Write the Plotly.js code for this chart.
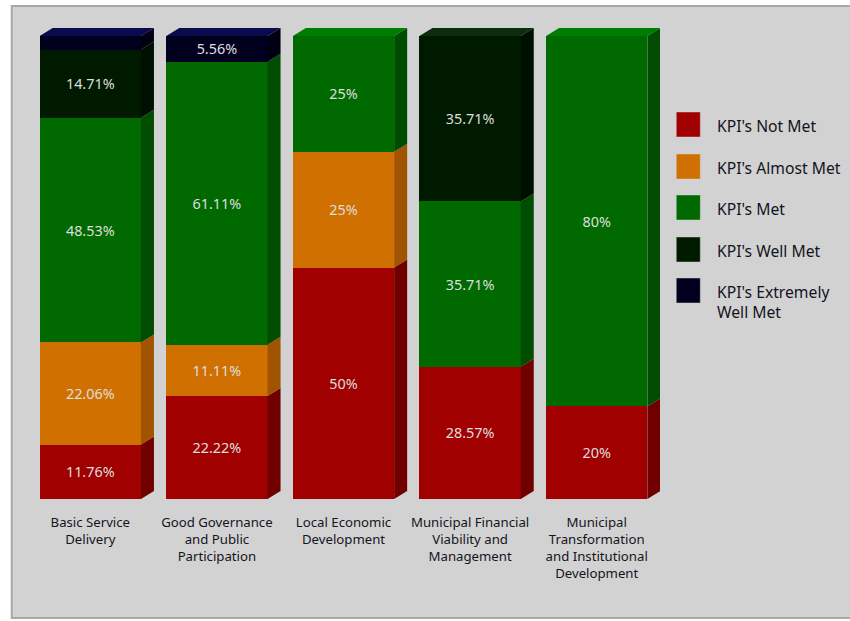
<!DOCTYPE html>
<html>
<head>
<meta charset="utf-8">
<script src="https://cdn.plot.ly/plotly-3.0.1.min.js"></script>
<style>html,body{margin:0;padding:0;background:#fff}#chart{width:850px;height:621px}</style>
</head>
<body>
<div id="chart"></div>
<script>
// KPI achievement by key performance area (percent of KPIs)
const categories = [
  "Basic Service<br>Delivery",
  "Good Governance<br>and Public<br>Participation",
  "Local Economic<br>Development",
  "Municipal Financial<br>Viability and<br>Management",
  "Municipal<br>Transformation<br>and Institutional<br>Development"
];
const seriesNames = ["KPI's Not Met", "KPI's Almost Met", "KPI's Met", "KPI's Well Met", "KPI's Extremely<br>Well Met"];
const notMet        = [11.76, 22.22, 50, 28.57, 20];
const almostMet     = [22.06, 11.11, 25, 0, 0];
const met           = [48.53, 61.11, 25, 35.71, 80];
const wellMet       = [14.71, 0, 0, 35.71, 0];
const extremelyMet  = [2.94, 5.56, 0, 0, 0];
const seriesValues  = [notMet, almostMet, met, wellMet, extremelyMet];

// Segments too thin to hold a label stay unlabelled
const minLabelled = 5;

const frontColors = ["#a00000", "#d07000", "#006a00", "#001a00", "#00001e"];
const sideColors  = ["#700000", "#a05400", "#004c00", "#001000", "#000012"];
const topColors   = ["#b00000", "#e08000", "#007c00", "#0e2c0e", "#0a0a4c"];

const fontFamily = "'Noto Sans', sans-serif";

// Plot frame in pixels
const W = 850, H = 621;
const plot = {left: 27.25, right: 659.75, top: 28, bottom: 499};
const pxPerCat = (plot.right - plot.left) / categories.length;
const pxPerPct = (plot.bottom - 36) / 100;
const depthX = 13 / pxPerCat;
const depthY = 8 / pxPerPct;
const barGap = 0.2;
const halfBar = (1 - barGap) / 2;

const xs = categories.map((_, i) => i);
const traces = [];

// Front faces
seriesValues.forEach((vals, s) => {
  traces.push({
    type: "bar", x: xs, y: vals, name: seriesNames[s].replace("<br>", " "),
    marker: {color: frontColors[s], line: {width: 0}},
    text: vals.map(v => v >= minLabelled ? v + "%" : ""),
    textposition: "inside", insidetextanchor: "middle", textangle: 0,
    constraintext: "none", cliponaxis: false,
    insidetextfont: {family: fontFamily, size: 14.4, color: "#dedede"},
    hoverinfo: "skip", showlegend: false
  });
});

// Side and top faces of the extruded stacks
const sideX = seriesValues.map(() => []), sideY = seriesValues.map(() => []);
const topX = seriesValues.map(() => []), topY = seriesValues.map(() => []);
xs.forEach(i => {
  let base = 0, last = 0;
  seriesValues.forEach((vals, s) => {
    const v = vals[i];
    if (v <= 0) return;
    const r = i + halfBar, t = base + v;
    sideX[s].push(r, r + depthX, r + depthX, r, r, null);
    sideY[s].push(base, base + depthY, t + depthY, t, base, null);
    base = t; last = s;
  });
  const l = i - halfBar, r = i + halfBar;
  topX[last].push(l, l + depthX, r + depthX, r, l, null);
  topY[last].push(base, base + depthY, base + depthY, base, base, null);
});
seriesValues.forEach((_, s) => {
  traces.push({type: "scatter", mode: "none", x: sideX[s], y: sideY[s], fill: "toself",
    fillcolor: sideColors[s], hoverinfo: "skip", showlegend: false});
  traces.push({type: "scatter", mode: "none", x: topX[s], y: topY[s], fill: "toself",
    fillcolor: topColors[s], hoverinfo: "skip", showlegend: false});
});

// Pixel position to paper fraction
const px = x => (x - plot.left) / (plot.right - plot.left);
const py = y => (plot.bottom - y) / (plot.bottom - plot.top);

// Panel behind the chart
const shapes = [{
  type: "rect", xref: "paper", yref: "paper", layer: "below",
  x0: px(12), x1: px(852), y0: py(618), y1: py(6),
  fillcolor: "#d2d2d2", line: {color: "#a8a8a8", width: 2}
}];

// Hand-placed legend with large swatches
const legendTop = [112, 154, 195, 237, 278];
const legendText = [126, 168, 209, 251, 302];
const annotations = [];
seriesNames.forEach((name, s) => {
  shapes.push({
    type: "rect", xref: "paper", yref: "paper", layer: "above",
    x0: px(676), x1: px(700), y0: py(legendTop[s] + 25), y1: py(legendTop[s]),
    fillcolor: frontColors[s], line: {color: "rgba(210,210,210,0.45)", width: 1}
  });
  annotations.push({
    xref: "paper", yref: "paper", x: px(715), y: py(legendText[s]),
    xanchor: "left", yanchor: "middle", align: "left", showarrow: false,
    text: name, font: {family: fontFamily, size: 15.7, color: "#14141e"}
  });
});

const layout = {
  width: W, height: H,
  paper_bgcolor: "#ffffff", plot_bgcolor: "rgba(0,0,0,0)",
  margin: {l: plot.left, r: W - plot.right, t: plot.top, b: H - plot.bottom, autoexpand: false},
  barmode: "stack", bargap: barGap, showlegend: false,
  xaxis: {
    type: "linear", range: [-0.5, categories.length - 0.5],
    tickmode: "array", tickvals: xs, ticktext: categories, tickangle: 0,
    ticks: "outside", ticklen: 11, tickcolor: "rgba(0,0,0,0)",
    showgrid: false, zeroline: false, showline: false,
    tickfont: {family: fontFamily, size: 13.2, color: "#14141e"}
  },
  yaxis: {range: [0, 100 + depthY], visible: false, showgrid: false, zeroline: false},
  shapes, annotations
};

Plotly.newPlot("chart", traces, layout, {displayModeBar: false, staticPlot: true});
</script>
</body>
</html>
